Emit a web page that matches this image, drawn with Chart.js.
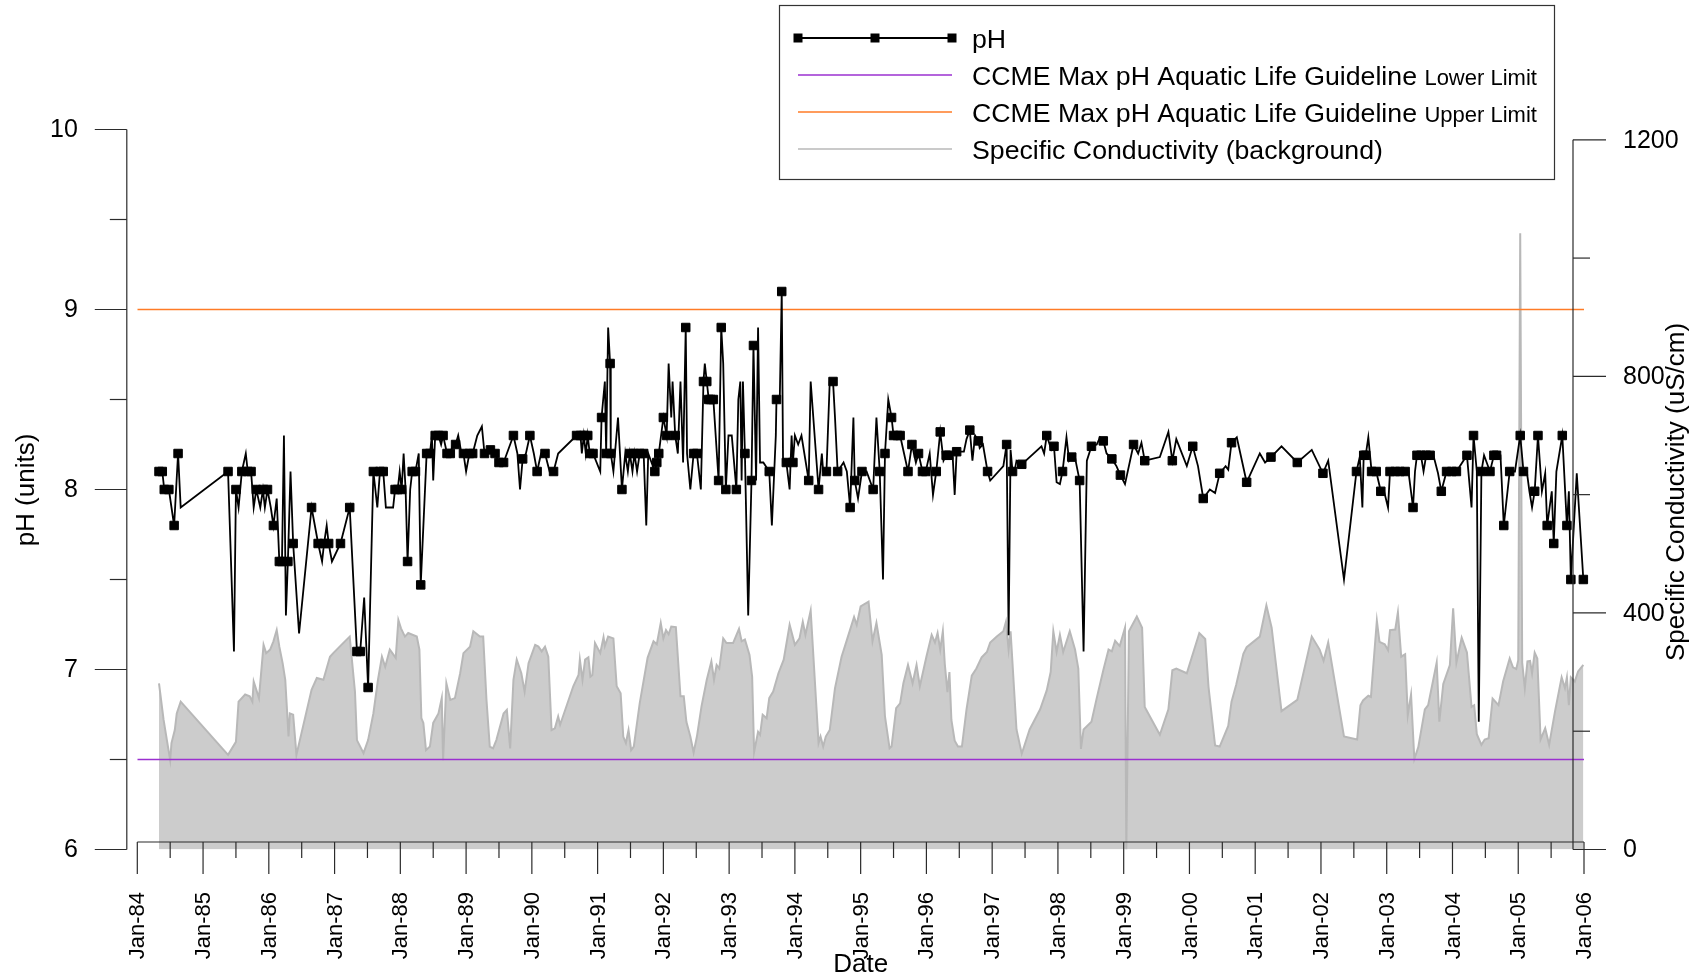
<!DOCTYPE html>
<html>
<head>
<meta charset="utf-8">
<title>pH and Specific Conductivity</title>
<script src="https://cdn.jsdelivr.net/npm/chart.js@4.4.1/dist/chart.umd.min.js"></script>
<style>
  html, body { margin: 0; padding: 0; background: #fff; }
  #wrap { width: 1703px; height: 980px; }
</style>
</head>
<body>
<div id="wrap"><canvas id="phChart" width="1703" height="980"></canvas></div>
<script>
// ---- pH readings (decimal year, pH, 1 = drawn with a square marker) ----
const phDates = [
  1984.33,1984.38,1984.41,1984.48,1984.56,1984.62,1984.66,1985.38,1985.47,1985.50,
  1985.54,1985.59,1985.65,1985.68,1985.73,1985.77,1985.81,1985.87,1985.91,1985.94,
  1985.98,1986.03,1986.07,1986.12,1986.16,1986.20,1986.23,1986.26,1986.29,1986.33,
  1986.37,1986.46,1986.65,1986.70,1986.75,1986.81,1986.84,1986.88,1986.91,1986.96,
  1987.09,1987.16,1987.23,1987.34,1987.39,1987.45,1987.51,1987.59,1987.65,1987.69,
  1987.74,1987.78,1987.89,1987.92,1987.96,1987.99,1988.02,1988.05,1988.08,1988.11,
  1988.15,1988.18,1988.23,1988.28,1988.31,1988.40,1988.45,1988.48,1988.50,1988.53,
  1988.58,1988.62,1988.65,1988.71,1988.76,1988.80,1988.84,1988.88,1988.92,1988.96,
  1989.00,1989.05,1989.10,1989.17,1989.24,1989.28,1989.37,1989.44,1989.50,1989.57,
  1989.62,1989.72,1989.78,1989.82,1989.86,1989.91,1989.97,1990.03,1990.08,1990.14,
  1990.20,1990.27,1990.33,1990.40,
  1990.68,1990.74,1990.76,1990.79,1990.82,1990.85,1990.88,1990.93,1991.04,1991.06,
  1991.11,1991.13,1991.16,1991.19,1991.20,1991.24,1991.31,1991.37,1991.42,1991.46,
  1991.49,1991.53,1991.56,1991.60,1991.64,1991.70,1991.74,1991.77,1991.87,1991.90,
  1991.93,1992.00,1992.05,1992.08,1992.12,1992.14,1992.18,1992.22,1992.26,1992.30,
  1992.34,1992.36,1992.41,1992.46,1992.51,1992.57,1992.61,1992.63,1992.66,1992.69,
  1992.72,1992.76,1992.84,1992.88,1992.91,1992.95,1992.99,1993.04,1993.11,1993.14,
  1993.17,1993.19,1993.21,1993.24,1993.29,1993.34,1993.37,1993.41,1993.44,1993.47,
  1993.52,1993.61,1993.65,1993.71,1993.72,1993.77,1993.80,1993.82,1993.87,1993.92,
  1993.95,1993.97,1994.00,1994.05,1994.10,1994.21,1994.24,1994.36,1994.41,1994.43,
  1994.48,1994.53,1994.58,1994.61,1994.65,1994.74,1994.79,1994.84,1994.89,1994.91,
  1994.96,1995.02,1995.09,1995.19,1995.24,1995.29,1995.34,1995.37,1995.42,1995.47,
  1995.50,1995.56,1995.60,1995.66,1995.72,1995.78,1995.84,1995.88,1995.94,1995.99,
  1996.05,1996.10,1996.15,
  1996.21,1996.26,1996.30,1996.34,1996.40,1996.43,1996.46,1996.51,1996.57,1996.61,
  1996.66,1996.70,1996.74,1996.79,1996.81,1996.86,1996.93,1996.97,1997.17,1997.22,
  1997.25,1997.28,1997.31,1997.35,1997.37,1997.45,1997.75,1997.79,1997.83,1997.90,
  1997.94,1997.98,1998.03,1998.07,1998.13,1998.17,1998.21,1998.26,1998.28,1998.33,
  1998.39,1998.44,1998.51,1998.59,1998.64,1998.69,1998.74,1998.82,1998.89,1998.95,
  1999.02,1999.15,1999.22,1999.27,1999.32,1999.55,1999.68,1999.74,1999.80,1999.96,
  2000.05,2000.13,2000.21,2000.31,2000.39,2000.46,2000.55,2000.59,2000.64,2000.72,
  2000.87,2001.07,2001.15,2001.24,2001.40,2001.64,2001.86,
  2002.03,2002.11,2002.35,2002.54,2002.59,2002.63,2002.65,2002.68,2002.72,2002.77,
  2002.84,2002.91,2002.96,2003.02,2003.05,2003.13,2003.20,2003.28,2003.33,2003.40,
  2003.43,2003.46,2003.52,2003.56,2003.60,2003.66,2003.71,2003.78,2003.83,2003.91,
  2003.99,2004.06,2004.22,2004.29,2004.32,2004.37,2004.40,2004.44,2004.48,2004.57,
  2004.63,2004.67,2004.73,2004.78,2004.87,2004.95,2005.03,2005.08,2005.13,2005.17,
  2005.21,2005.25,2005.30,2005.36,2005.41,2005.44,2005.51,2005.54,2005.58,2005.67,
  2005.74,2005.77,2005.80,2005.89,2005.99
];
const phValues = [
  8.1,8.1,8.0,8.0,7.8,8.2,7.9,8.1,7.1,8.0,
  7.9,8.1,8.2,8.1,8.1,7.9,8.0,7.9,8.0,7.9,
  8.0,7.9,7.8,7.95,7.6,7.6,8.3,7.3,7.6,8.1,
  7.7,7.2,7.9,7.8,7.7,7.6,7.7,7.8,7.7,7.6,
  7.7,7.8,7.9,7.1,7.1,7.4,6.9,8.1,7.9,8.1,
  8.1,7.9,7.9,8.0,8.0,8.1,8.0,8.2,8.0,7.6,
  8.0,8.1,8.1,8.2,7.47,8.2,8.2,8.3,8.05,8.3,
  8.3,8.25,8.3,8.2,8.2,8.25,8.25,8.3,8.22,8.2,
  8.1,8.2,8.2,8.3,8.35,8.2,8.22,8.2,8.15,8.15,
  8.2,8.3,8.2,8.0,8.17,8.2,8.3,8.2,8.1,8.2,
  8.2,8.1,8.1,8.2,
  8.3,8.3,8.2,8.3,8.2,8.3,8.2,8.2,8.1,8.4,
  8.6,8.2,8.9,8.7,8.2,8.1,8.4,8.0,8.2,8.1,
  8.2,8.1,8.2,8.1,8.2,8.2,7.8,8.2,8.1,8.15,
  8.2,8.4,8.3,8.7,8.4,8.6,8.3,8.2,8.6,8.15,
  8.9,8.2,8.0,8.2,8.2,8.0,8.6,8.7,8.6,8.5,
  8.5,8.5,8.05,8.9,8.7,8.0,8.3,8.3,8.0,8.5,
  8.6,8.05,8.6,8.2,7.3,8.05,8.8,8.05,8.9,8.15,
  8.15,8.1,7.8,8.3,8.5,8.5,9.1,8.15,8.15,8.0,
  8.3,8.15,8.3,8.25,8.3,8.05,8.6,8.0,8.2,8.1,
  8.1,8.6,8.6,8.4,8.1,8.15,8.1,7.9,8.4,8.05,
  7.95,8.1,8.1,8.0,8.4,8.1,7.5,8.2,8.5,8.4,
  8.3,8.3,8.3,8.2,8.1,8.25,8.15,8.2,8.1,8.1,
  8.2,7.97,8.1,
  8.32,8.16,8.19,8.19,8.18,7.97,8.21,8.21,8.21,8.28,
  8.33,8.16,8.30,8.27,8.23,8.25,8.10,8.05,8.13,8.25,
  7.19,8.22,8.10,8.12,8.16,8.14,8.24,8.20,8.30,8.22,
  8.24,8.04,8.03,8.10,8.29,8.16,8.18,8.18,8.14,8.05,
  7.10,8.16,8.24,8.25,8.29,8.27,8.20,8.17,8.13,8.08,
  8.03,8.25,8.20,8.26,8.16,8.18,8.32,8.16,8.28,8.13,
  8.24,8.13,7.95,8.00,7.98,8.09,8.13,8.11,8.26,8.29,
  8.04,8.20,8.15,8.18,8.24,8.15,8.22,
  8.09,8.16,7.50,8.10,8.18,7.90,8.19,8.19,8.29,8.10,
  8.10,7.99,7.99,7.90,8.10,8.10,8.10,8.10,8.10,7.90,
  8.10,8.19,8.19,8.10,8.19,8.19,8.19,8.09,7.99,8.10,
  8.10,8.10,8.19,7.90,8.30,8.10,6.71,8.10,8.19,8.10,
  8.19,8.19,8.19,7.80,8.10,8.10,8.30,8.10,8.10,7.99,
  7.90,7.99,8.30,7.99,8.09,7.80,7.99,7.70,8.10,8.30,
  7.80,7.99,7.50,8.09,7.50
];
const phMarked = [
  1,1,1,1,1,1,0,1,0,1, 0,1,0,1,1,0,1,0,1,0, 1,0,1,0,1,1,0,0,1,0, 1,0,1,0,1,0,1,0,1,0,
  1,0,1,1,1,0,1,1,0,1, 1,0,0,1,1,0,1,0,0,1, 0,1,1,0,1,1,1,0,0,1, 1,0,1,1,1,0,1,0,0,1,
  0,1,1,0,0,1,1,1,1,1, 0,1,0,0,1,0,1,0,1,0, 1,0,1,0,
  1,1,0,1,0,1,1,1,0,1, 0,1,0,1,1,0,0,1,0,0, 1,0,1,0,1,1,0,0,1,1, 1,1,1,0,0,0,1,0,0,0,
  1,0,0,1,1,0,1,0,1,1, 1,1,1,1,0,1,0,0,1,0, 0,0,0,1,0,1,1,0,0,0, 0,1,0,0,1,0,1,0,1,0,
  0,1,0,0,0,1,0,1,0,0, 1,0,1,0,1,0,0,1,0,1, 0,1,0,1,0,1,0,1,0,1, 1,1,1,0,1,1,0,1,1,1,
  0,0,1,
  1,0,1,1,0,0,1,0,0,0, 1,0,0,1,0,0,1,0,0,1, 0,0,1,0,0,1,0,0,1,0, 1,0,0,1,0,0,1,0,0,1,
  0,0,1,0,0,1,0,1,0,1, 0,1,0,0,1,0,0,1,0,0, 1,0,1,0,0,1,0,0,1,0, 1,0,0,1,0,1,0,
  1,0,0,1,0,0,1,1,0,1, 1,1,0,0,1,1,1,1,0,1, 0,1,1,0,1,1,0,0,1,1, 1,1,1,0,1,0,0,1,0,1,
  1,1,0,1,1,0,1,1,0,0, 0,1,1,0,0,1,0,1,0,1, 1,0,1,0,1
];

// ---- specific conductivity (decimal year, uS/cm) ----
const condDates = [
  1984.33,1984.40,1984.45,1984.50,1984.52,1984.57,1984.60,1984.66,1985.38,1985.50,
  1985.54,1985.64,1985.71,1985.75,1985.77,1985.85,1985.92,1985.96,1986.02,1986.07,
  1986.12,1986.16,1986.21,1986.25,1986.30,1986.32,1986.37,1986.42,1986.65,1986.73,
  1986.83,1986.93,1986.98,1987.13,1987.23,1987.31,1987.34,1987.44,1987.51,1987.59,
  1987.66,1987.72,1987.77,1987.84,1987.93,1987.97,1988.01,1988.07,1988.12,1988.25,
  1988.29,1988.32,1988.35,1988.39,1988.45,1988.50,1988.58,1988.63,1988.65,1988.70,
  1988.76,1988.83,1988.91,1988.96,1989.06,1989.11,1989.21,1989.26,1989.31,1989.36,
  1989.41,1989.46,1989.57,1989.62,1989.67,1989.72,1989.77,1989.84,1989.89,1989.95,
  1990.05,1990.10,1990.15,1990.20,1990.25,1990.30,1990.35,1990.40,
  1990.43,1990.63,1990.71,1990.73,1990.77,1990.81,1990.86,1990.89,1990.92,1990.96,
  1991.04,1991.09,1991.11,1991.16,1991.24,1991.29,1991.35,1991.39,1991.43,1991.47,
  1991.51,1991.55,1991.64,1991.76,1991.85,1991.90,1991.96,1992.00,1992.04,1992.08,
  1992.12,1992.19,1992.26,1992.31,1992.35,1992.41,1992.46,1992.51,1992.58,1992.66,
  1992.73,1992.77,1992.81,1992.85,1992.91,1992.96,1993.06,1993.15,1993.19,1993.24,
  1993.31,1993.35,1993.38,1993.44,1993.47,1993.51,1993.57,1993.61,1993.67,1993.75,
  1993.83,1993.92,1994.00,1994.07,1994.12,1994.16,1994.24,1994.36,1994.39,1994.43,
  1994.47,1994.53,1994.61,1994.71,1994.79,1994.90,1994.94,1995.00,1995.12,1995.18,
  1995.24,1995.32,1995.37,1995.44,1995.47,1995.54,1995.60,1995.65,1995.72,1995.79,
  1995.85,1995.90,1996.00,1996.08,1996.13,1996.17,1996.21,1996.25,1996.28,1996.32,
  1996.35,1996.38,1996.43,
  1996.48,1996.54,1996.61,1996.69,1996.76,1996.84,1996.92,1996.97,1997.07,1997.17,
  1997.21,1997.25,1997.28,1997.37,1997.45,1997.57,1997.73,1997.83,1997.89,1997.93,
  1997.98,1998.03,1998.08,1998.18,1998.26,1998.31,1998.35,1998.39,1998.51,1998.59,
  1998.69,1998.77,1998.82,1998.87,1998.94,1999.02,1999.04,1999.08,1999.20,1999.28,
  1999.32,1999.55,1999.68,1999.74,1999.80,1999.96,2000.15,2000.24,2000.29,2000.39,
  2000.46,2000.59,2000.64,2000.71,2000.82,2000.87,2001.07,2001.17,2001.25,2001.40,
  2001.64,2001.86,2001.98,
  2002.04,2002.11,2002.35,2002.55,2002.60,2002.64,2002.72,2002.76,2002.80,2002.85,
  2002.89,2002.97,2003.02,2003.05,2003.13,2003.17,2003.22,2003.28,2003.32,2003.37,
  2003.42,2003.48,2003.58,2003.63,2003.76,2003.80,2003.86,2003.96,2004.01,2004.06,
  2004.14,2004.22,2004.29,2004.33,2004.37,2004.44,2004.49,2004.55,2004.61,2004.70,
  2004.77,2004.87,2004.92,2004.97,2005.00,2005.03,2005.06,2005.10,2005.14,2005.18,
  2005.21,2005.25,2005.29,2005.34,2005.41,2005.47,2005.56,2005.66,2005.71,2005.74,
  2005.77,2005.80,2005.86,2005.91,2005.99
];
const condValues = [
  281,219,185,151,180,202,230,250,160,182,
  250,262,259,250,284,256,346,332,338,352,
  371,343,315,287,191,230,228,160,270,290,
  287,326,332,349,360,267,185,163,185,230,
  287,326,309,338,324,388,374,360,366,360,
  338,222,214,168,174,214,230,256,151,281,
  253,256,298,332,343,369,360,360,253,174,
  171,185,230,236,171,287,321,298,267,315,
  346,343,335,343,326,202,205,225,
  211,276,295,321,287,321,325,292,295,349,
  332,359,344,360,357,276,264,191,180,202,
  168,174,247,324,352,347,383,357,371,364,
  377,376,259,259,216,191,164,191,242,287,
  318,287,312,306,357,349,349,373,352,355,
  329,292,165,199,194,228,222,256,267,298,
  321,380,346,357,385,363,404,180,191,174,
  191,202,273,326,354,393,380,411,419,352,
  383,329,225,171,174,239,247,281,312,281,
  312,276,326,363,350,366,338,369,313,266,
  300,219,184,
  174,174,237,294,306,325,334,350,360,369,
  385,338,369,203,162,203,237,269,300,369,
  334,363,334,369,338,306,170,203,216,256,
  303,338,335,353,344,375,0,369,394,375,
  241,194,237,303,306,298,366,356,275,176,
  174,209,250,278,331,342,360,413,375,234,
  253,360,338,
  319,350,191,186,244,252,260,258,316,387,
  351,347,337,371,372,401,326,330,227,262,
  153,173,237,244,316,216,280,312,408,316,
  358,333,241,244,195,177,186,188,255,244,
  284,323,308,305,320,1042,316,273,318,319,
  298,333,323,186,205,177,234,291,273,291,
  244,291,284,301,312
];

// ---- CCME guideline lines ----
const guideDates = [1984, 2006];
const phUpperLimit = [9, 9];
const phLowerLimit = [6.5, 6.5];

// ---- axis ticks ----
const yearTicks = [1984,1985,1986,1987,1988,1989,1990,1991,1992,1993,1994,1995,
                   1996,1997,1998,1999,2000,2001,2002,2003,2004,2005,2006];
const yearLabels = ['Jan-84','Jan-85','Jan-86','Jan-87','Jan-88','Jan-89','Jan-90','Jan-91',
                    'Jan-92','Jan-93','Jan-94','Jan-95','Jan-96','Jan-97','Jan-98','Jan-99',
                    'Jan-00','Jan-01','Jan-02','Jan-03','Jan-04','Jan-05','Jan-06'];
const phTicks = [6, 7, 8, 9, 10];
const phMinorTicks = [6.5, 7.5, 8.5, 9.5];
const condTicks = [0, 400, 800, 1200];
const condMinorTicks = [200, 600, 1000];

const FONT = '"Liberation Sans", Arial, Helvetica, sans-serif';
const ORANGE = '#ff7b26';
const PURPLE = '#9b30d0';

function pairs(xs, ys) {
  return xs.map((x, i) => ({ x: x, y: ys[i] }));
}

// R style axes: detached lines with long major / short minor ticks
const rAxesPlugin = {
  id: 'rAxes',
  afterDraw(chart) {
    const { ctx, chartArea } = chart;
    const xs = chart.scales.x, yl = chart.scales.y, yr = chart.scales.y2;
    const seg = (x1, y1, x2, y2) => { ctx.beginPath(); ctx.moveTo(x1, y1); ctx.lineTo(x2, y2); ctx.stroke(); };
    ctx.save();
    ctx.strokeStyle = '#2b2b2b';
    ctx.fillStyle = '#000';
    ctx.lineWidth = 1.2;

    // left: pH
    const lx = chartArea.left - 10.5;
    seg(lx, yl.getPixelForValue(10), lx, yl.getPixelForValue(6));
    ctx.font = '25px ' + FONT;
    ctx.textAlign = 'right';
    ctx.textBaseline = 'middle';
    phTicks.forEach(v => {
      const y = yl.getPixelForValue(v);
      seg(lx - 32, y, lx, y);
      ctx.fillText(String(v), lx - 49, y + 1);
    });
    phMinorTicks.forEach(v => {
      const y = yl.getPixelForValue(v);
      seg(lx - 17, y, lx, y);
    });

    // right: conductivity
    const rx = chartArea.right - 11;
    seg(rx, yr.getPixelForValue(1200), rx, yr.getPixelForValue(0));
    ctx.textAlign = 'left';
    condTicks.forEach(v => {
      const y = yr.getPixelForValue(v);
      seg(rx, y, rx + 33, y);
      ctx.fillText(String(v), rx + 50, y + 1);
    });
    condMinorTicks.forEach(v => {
      const y = yr.getPixelForValue(v);
      seg(rx, y, rx + 17, y);
    });

    // bottom: date
    const by = chartArea.bottom - 7.5;
    seg(xs.getPixelForValue(yearTicks[0]), by, xs.getPixelForValue(yearTicks[yearTicks.length - 1]), by);
    ctx.font = '22px ' + FONT;
    ctx.textAlign = 'right';
    yearTicks.forEach((yr0, i) => {
      const x = xs.getPixelForValue(yr0);
      seg(x, by, x, by + 32);
      if (i < yearTicks.length - 1) {
        const xm = xs.getPixelForValue(yr0 + 0.5);
        seg(xm, by, xm, by + 16);
      }
      ctx.save();
      ctx.translate(x, by + 50);
      ctx.rotate(-Math.PI / 2);
      ctx.fillText(yearLabels[i], 0, 1);
      ctx.restore();
    });

    // axis titles
    ctx.font = '26px ' + FONT;
    ctx.textAlign = 'center';
    ctx.fillText('Date', (chartArea.left + chartArea.right) / 2, 965);
    ctx.save();
    ctx.translate(27, 490);
    ctx.rotate(-Math.PI / 2);
    ctx.fillText('pH (units)', 0, 0);
    ctx.restore();
    ctx.save();
    ctx.translate(1677, 492);
    ctx.rotate(-Math.PI / 2);
    ctx.fillText('Specific Conductivity (uS/cm)', 0, 0);
    ctx.restore();
    ctx.restore();
  }
};

// boxed legend in the upper right, partly above the plot
const boxLegendPlugin = {
  id: 'boxLegend',
  afterDraw(chart) {
    const ctx = chart.ctx;
    const left = 779.5, top = 5.5, w = 775, h = 174;
    const x1 = 798, x2 = 952, tx = 972;
    const rows = [
      { y: 38, color: '#000', width: 1.8, marks: true, text: 'pH', small: '' },
      { y: 75, color: PURPLE, width: 1.5, text: 'CCME Max pH Aquatic Life Guideline', small: 'Lower Limit' },
      { y: 112, color: ORANGE, width: 1.5, text: 'CCME Max pH Aquatic Life Guideline', small: 'Upper Limit' },
      { y: 149, color: '#b8b8b8', width: 1.5, text: 'Specific Conductivity (background)', small: '' }
    ];
    ctx.save();
    ctx.strokeStyle = '#333';
    ctx.lineWidth = 1.2;
    ctx.strokeRect(left, top, w, h);
    rows.forEach(r => {
      ctx.strokeStyle = r.color;
      ctx.lineWidth = r.width;
      ctx.beginPath();
      ctx.moveTo(x1, r.y);
      ctx.lineTo(x2, r.y);
      ctx.stroke();
      if (r.marks) {
        ctx.fillStyle = '#000';
        [x1, (x1 + x2) / 2, x2].forEach(mx => ctx.fillRect(mx - 4.5, r.y - 4.5, 9, 9));
      }
      ctx.fillStyle = '#000';
      ctx.textAlign = 'left';
      ctx.textBaseline = 'alphabetic';
      ctx.font = '26.7px ' + FONT;
      ctx.fillText(r.text, tx, r.y + 10);
      if (r.small) {
        const wMain = ctx.measureText(r.text + ' ').width;
        ctx.font = '22px ' + FONT;
        ctx.fillText(r.small, tx + wMain, r.y + 10);
      }
    });
    ctx.restore();
  }
};

new Chart(document.getElementById('phChart'), {
  type: 'line',
  data: {
    datasets: [
      {
        label: 'pH',
        data: pairs(phDates, phValues),
        yAxisID: 'y',
        borderColor: '#000',
        borderWidth: 1.8,
        pointStyle: 'rect',
        pointRadius: ctx => phMarked[ctx.dataIndex] ? 6 : 0,
        pointBackgroundColor: '#000',
        pointBorderColor: '#000',
        pointBorderWidth: 1,
        clip: false
      },
      {
        label: 'CCME Max pH Aquatic Life Guideline Upper Limit',
        data: pairs(guideDates, phUpperLimit),
        yAxisID: 'y',
        borderColor: ORANGE,
        borderWidth: 1.6,
        pointRadius: 0
      },
      {
        label: 'CCME Max pH Aquatic Life Guideline Lower Limit',
        data: pairs(guideDates, phLowerLimit),
        yAxisID: 'y',
        borderColor: PURPLE,
        borderWidth: 1.6,
        pointRadius: 0
      },
      {
        label: 'Specific Conductivity (background)',
        data: pairs(condDates, condValues),
        yAxisID: 'y2',
        borderColor: '#b8b8b8',
        backgroundColor: '#cccccc',
        borderWidth: 2,
        fill: 'origin',
        pointRadius: 0
      }
    ]
  },
  options: {
    responsive: false,
    animation: false,
    devicePixelRatio: 1,
    layout: { padding: { left: 137.3, right: 119, top: 129.5, bottom: 130.5 } },
    plugins: {
      legend: { display: false },
      tooltip: { enabled: false }
    },
    scales: {
      x: { type: 'linear', min: 1984, max: 2006, display: false },
      y: { type: 'linear', min: 6, max: 10, display: false },
      y2: { type: 'linear', position: 'right', min: 0, max: 1217.4, display: false }
    }
  },
  plugins: [rAxesPlugin, boxLegendPlugin]
});
</script>
</body>
</html>
